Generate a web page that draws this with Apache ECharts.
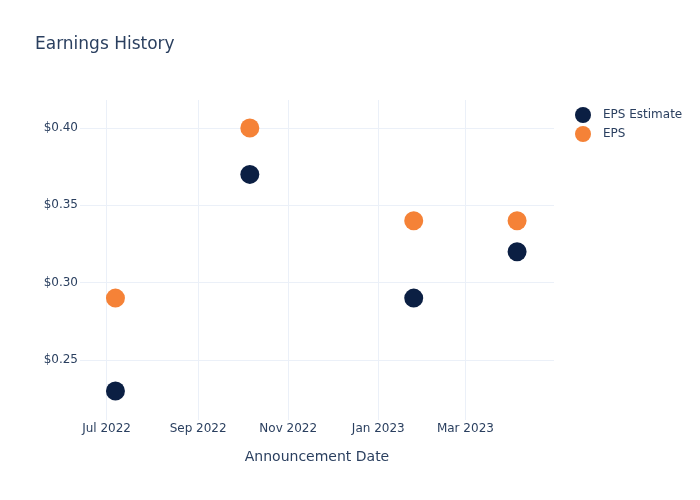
<!DOCTYPE html>
<html>
<head>
<meta charset="utf-8">
<script src="https://cdn.jsdelivr.net/npm/echarts@6/dist/echarts.min.js"></script>
<style>html,body{margin:0;padding:0;background:#fff}#c{width:700px;height:500px}</style>
</head>
<body>
<div id="c"></div>
<script>
const dates = ['2022-07-07', '2022-10-06', '2023-01-25', '2023-04-05'];
const epsEstimate = [0.23, 0.37, 0.29, 0.32];
const eps = [0.29, 0.40, 0.34, 0.34];
const xTickDates = ['2022-07-01', '2022-09-01', '2022-11-01', '2023-01-01', '2023-03-01'];
const xTickLabels = ['Jul 2022', 'Sep 2022', 'Nov 2022', 'Jan 2023', 'Mar 2023'];
const yTicks = [0.25, 0.30, 0.35, 0.40];

const ts = d => new Date(d + 'T00:00:00Z').getTime();
const xTickTs = xTickDates.map(ts);
const FONT = 'DejaVu Sans';
const TXT = '#2a3f5f';
const GRID = '#ebf0f8';

const chart = echarts.init(document.getElementById('c'), null, {renderer: 'canvas'});
chart.setOption({
  animation: false,
  backgroundColor: '#fff',
  textStyle: {fontFamily: FONT, color: TXT},
  title: {
    text: 'Earnings History', left: 35, top: 36, padding: 0,
    textStyle: {fontFamily: FONT, fontSize: 17, fontWeight: 'normal', color: TXT}
  },
  legend: {
    orient: 'vertical', left: 570, top: 102, itemGap: 3,
    itemWidth: 30, itemHeight: 16, icon: 'circle',
    textStyle: {fontFamily: FONT, fontSize: 12, color: TXT},
    data: ['EPS Estimate', 'EPS']
  },
  grid: {left: 80, right: 146, top: 100, bottom: 80},
  xAxis: {
    type: 'value',
    min: ts('2022-06-13'), max: ts('2023-04-30'),
    name: 'Announcement Date', nameLocation: 'middle', nameGap: 30,
    nameTextStyle: {fontFamily: FONT, fontSize: 14, color: TXT},
    axisLine: {show: false},
    axisTick: {show: false, customValues: xTickTs},
    axisLabel: {
      customValues: xTickTs, margin: 3, fontFamily: FONT, fontSize: 12, color: TXT,
      formatter: v => { const i = xTickTs.indexOf(v); return i >= 0 ? xTickLabels[i] : ''; }
    },
    splitLine: {show: true, lineStyle: {color: GRID, width: 1}}
  },
  yAxis: {
    type: 'value', min: 0.2112, max: 0.4181,
    axisLine: {show: false},
    axisTick: {show: false, customValues: yTicks},
    axisLabel: {
      customValues: yTicks, margin: 2, fontFamily: FONT, fontSize: 12, color: TXT,
      formatter: v => '$' + v.toFixed(2)
    },
    splitLine: {show: true, lineStyle: {color: GRID, width: 1}}
  },
  series: [
    {
      name: 'EPS Estimate', type: 'scatter', symbolSize: 19,
      itemStyle: {color: '#0b1f43', opacity: 1},
      data: dates.map((d, i) => [ts(d), epsEstimate[i]])
    },
    {
      name: 'EPS', type: 'scatter', symbolSize: 19,
      itemStyle: {color: '#f58237', opacity: 1},
      data: dates.map((d, i) => [ts(d), eps[i]])
    }
  ]
});
</script>
</body>
</html>
